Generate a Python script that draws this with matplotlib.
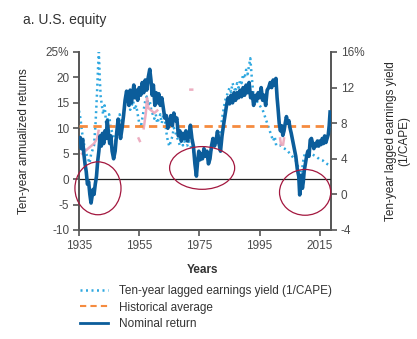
import matplotlib
matplotlib.use("Agg")
import matplotlib.pyplot as plt
import numpy as np
from matplotlib.patches import Ellipse
from matplotlib.lines import Line2D

plt.rcParams['font.family'] = ['Liberation Sans', 'DejaVu Sans']

# ten-year annualized nominal return (left axis, %)
ret_years = [1935.0, 1935.4, 1935.8, 1936.2, 1936.6, 1937.0, 1937.4, 1937.8, 1938.2, 1938.6,
             1939.0, 1939.3, 1939.7, 1940.0, 1940.4, 1940.8, 1941.2, 1941.6, 1942.0, 1942.4,
             1942.8, 1943.2, 1943.6, 1944.0, 1944.4, 1944.8, 1945.2, 1945.6, 1946.0, 1946.5,
             1947.0, 1947.5, 1948.0, 1948.4, 1948.8, 1949.3, 1949.8, 1950.3, 1950.8, 1951.2,
             1951.6, 1952.0, 1952.4, 1952.8, 1953.2, 1953.6, 1954.0, 1954.5, 1955.0, 1955.5,
             1956.0, 1956.5, 1957.0, 1957.5, 1958.0, 1958.5, 1958.9, 1959.3, 1959.7, 1960.2,
             1960.6, 1961.0, 1961.5, 1962.0, 1962.5, 1963.0, 1963.5, 1964.0, 1964.5, 1965.0,
             1965.5, 1966.0, 1966.5, 1967.0, 1967.5, 1968.0, 1968.5, 1969.0, 1969.5, 1970.0,
             1970.5, 1971.0, 1971.5, 1972.0, 1972.5, 1973.0, 1973.5, 1974.0, 1974.4, 1974.8,
             1975.2, 1975.6, 1976.0, 1976.5, 1977.0, 1977.5, 1978.0, 1978.5, 1979.0, 1979.5,
             1980.0, 1980.5, 1981.0, 1981.5, 1982.0, 1982.5, 1983.0, 1983.5, 1984.0, 1984.5,
             1985.0, 1985.5, 1986.0, 1986.5, 1987.0, 1987.5, 1988.0, 1988.5, 1989.0, 1989.5,
             1990.0, 1990.5, 1991.0, 1991.5, 1992.0, 1992.5, 1993.0, 1993.5, 1994.0, 1994.5,
             1995.0, 1995.5, 1996.0, 1996.5, 1997.0, 1997.5, 1998.0, 1998.5, 1999.0, 1999.5,
             2000.0, 2000.4, 2000.8, 2001.1, 2001.5, 2001.9, 2002.3, 2002.7, 2003.1, 2003.5,
             2003.9, 2004.3, 2004.7, 2005.1, 2005.5, 2006.0, 2006.5, 2007.0, 2007.5, 2008.0,
             2008.3, 2008.6, 2008.9, 2009.2, 2009.5, 2009.8, 2010.2, 2010.6, 2011.0, 2011.4,
             2011.8, 2012.2, 2012.6, 2013.0, 2013.4, 2013.8, 2014.2, 2014.6, 2015.0, 2015.4,
             2015.8, 2016.2, 2016.6, 2017.0, 2017.4, 2017.8, 2018.1, 2018.4]
nominal_return = [7.5, 8.2, 6.0, 7.8, 5.0, 3.0, 1.5, -1.0, -0.5, -3.0,
                  -4.7, -3.5, -2.0, -3.0, -1.0, 0.5, 3.5, 5.5, 8.5, 6.5,
                  9.0, 7.0, 9.5, 8.0, 11.5, 9.0, 7.0, 8.5, 5.5, 4.0,
                  5.5, 9.0, 11.8, 10.0, 8.0, 10.0, 12.5, 15.5, 17.3, 16.0,
                  14.5, 17.5, 15.0, 16.5, 18.5, 16.0, 17.5, 15.5, 18.0, 16.5,
                  19.0, 17.0, 19.5, 17.5, 20.0, 21.6, 19.5, 16.5, 18.5, 14.5,
                  17.0, 15.0, 16.8, 14.5, 16.0, 14.0, 12.0, 12.5, 10.0, 11.0,
                  12.5, 10.5, 13.0, 11.5, 12.0, 8.5, 9.5, 7.5, 9.0, 8.0,
                  9.5, 7.5, 8.5, 10.6, 8.0, 6.5, 3.0, 0.6, 3.5, 5.5,
                  3.8, 5.0, 4.0, 6.0, 4.5, 5.5, 3.0, 4.0, 6.5, 8.0,
                  6.5, 7.5, 9.4, 7.0, 5.5, 8.5, 10.6, 12.5, 14.5, 16.0,
                  14.8, 16.5, 15.0, 17.0, 15.5, 17.0, 16.0, 17.5, 16.2, 18.0,
                  16.5, 18.5, 17.0, 19.0, 16.0, 17.0, 14.5, 16.5, 15.5, 17.0,
                  16.0, 18.0, 15.5, 16.5, 14.5, 17.5, 18.0, 19.0, 18.0, 19.5,
                  18.5, 19.8, 16.0, 14.0, 11.0, 9.5, 10.5, 8.6, 9.5, 11.0,
                  12.3, 11.0, 11.5, 10.0, 9.0, 7.5, 6.0, 4.5, 2.0, 0.5,
                  -3.1, -1.0, 0.8, -1.8, -0.5, 1.6, 3.0, 4.5, 5.5, 4.5,
                  7.7, 8.0, 7.0, 6.0, 7.0, 6.5, 7.5, 6.5, 7.5, 6.8,
                  8.0, 7.0, 8.5, 7.2, 8.0, 8.8, 10.5, 13.2]

# ten-year lagged earnings yield 1/CAPE (right axis, %)
ey_years = [1935.0, 1935.5, 1936.0, 1936.5, 1937.0, 1937.5, 1938.0, 1938.5, 1939.0, 1939.5,
            1940.0, 1940.5, 1941.0, 1941.3, 1941.6, 1941.9, 1942.2, 1942.6, 1943.0, 1943.5,
            1944.0, 1944.5, 1945.0, 1945.5, 1946.0, 1946.5, 1947.0, 1947.5, 1948.0, 1948.5,
            1949.0, 1949.5, 1950.0, 1950.5, 1951.0, 1951.5, 1952.0, 1952.5, 1953.0, 1953.5,
            1954.0, 1954.5, 1955.0, 1955.5, 1956.0, 1956.5, 1957.0, 1957.5, 1958.0, 1958.5,
            1959.0, 1959.5, 1960.0, 1960.5, 1961.0, 1961.5, 1962.0, 1962.5, 1963.0, 1963.5,
            1964.0, 1964.5, 1965.0, 1965.5, 1966.0, 1966.5, 1967.0, 1967.5, 1968.0, 1968.5,
            1969.0, 1969.5, 1970.0, 1970.5, 1971.0, 1971.5, 1972.0, 1972.5, 1973.0, 1974.0,
            1975.0, 1976.0, 1977.0, 1978.0, 1979.0, 1979.5, 1980.0, 1980.5, 1981.0, 1981.5,
            1982.0, 1982.5, 1983.0, 1983.5, 1984.0, 1984.5, 1985.0, 1985.5, 1986.0, 1986.5,
            1987.0, 1987.5, 1988.0, 1988.5, 1989.0, 1989.5, 1990.0, 1990.5, 1991.0, 1991.5,
            1991.9, 1992.3, 1992.7, 1993.0, 1994.0, 1995.0, 1996.0, 1997.0, 1997.5, 1998.0,
            1998.5, 1999.0, 1999.5, 2000.0, 2000.5, 2001.0, 2002.0, 2003.0, 2004.0, 2005.0,
            2006.0, 2007.0, 2007.5, 2008.0, 2008.5, 2009.0, 2009.5, 2010.0, 2010.5, 2011.0,
            2012.0, 2013.0, 2014.0, 2015.0, 2016.0, 2017.0, 2018.0]
earnings_yield = [9.4, 8.5, 7.0, 6.0, 5.0, 4.5, 4.0, 3.5, 4.5, 5.0,
                  5.5, 8.0, 11.5, 14.0, 16.0, 13.0, 11.0, 10.0, 9.0, 10.0,
                  8.0, 8.5, 9.0, 7.5, 7.0, 6.5, 6.0, 6.5, 8.0, 9.0,
                  8.0, 8.5, 9.5, 10.5, 11.0, 10.0, 9.5, 10.0, 10.5, 9.5,
                  10.0, 9.0, 8.0, 7.5, 8.5, 9.5, 10.5, 11.0, 10.0, 10.5,
                  9.5, 9.0, 8.5, 9.0, 8.0, 8.5, 9.0, 8.0, 9.0, 8.5,
                  7.0, 6.0, 5.4, 6.0, 6.5, 7.5, 7.0, 6.5, 6.0, 5.5,
                  6.0, 5.5, 6.0, 5.5, 5.5, 6.0, 5.5, 5.0, 4.8, 4.5,
                  4.5, 4.0, 4.5, 4.0, 5.0, 5.5, 6.0, 6.5, 7.0, 6.5,
                  7.0, 8.5, 9.5, 10.5, 11.0, 11.5, 12.0, 11.5, 12.5, 12.0,
                  11.5, 12.5, 12.0, 12.8, 12.5, 13.5, 13.0, 14.0, 13.5, 14.5,
                  15.3, 13.5, 12.0, 11.0, 10.5, 10.0, 9.5, 8.5, 8.0, 7.5,
                  7.0, 6.5, 6.0, 6.5, 5.5, 5.5, 5.5, 5.2, 5.0, 4.6,
                  4.2, 3.8, 3.4, 2.8, 2.3, 2.6, 3.8, 4.6, 4.3, 4.8,
                  4.6, 4.4, 4.2, 3.9, 3.8, 3.5, 3.3]

# faint pink remnants seen in the original (left axis, %)
pink_years = [1936.0, 1937.0, 1938.0, 1939.0, 1940.0, 1941.0, 1941.5, np.nan,
              1954.8, 1955.2, np.nan,
              1956.5, 1957.2, 1957.6, 1958.0, 1959.0, 1960.0, 1961.0, np.nan,
              1972.0, 1972.6, np.nan,
              2001.8, 2002.1, np.nan, 2002.8, 2003.1]
pink_vals = [5.0, 5.5, 6.0, 6.5, 7.0, 8.0, 9.5, np.nan,
             8.0, 7.5, np.nan,
             10.0, 13.0, 16.0, 14.0, 13.5, 13.0, 13.5, np.nan,
             17.6, 17.6, np.nan,
             8.0, 6.8, np.nan, 6.8, 8.0]

hist_avg = 10.4

left_ticks = [-10, -5, 0, 5, 10, 15, 20, 25]
right_ticks = [-4, 0, 4, 8, 12, 16]
x_ticks = [1935, 1955, 1975, 1995, 2015]

dark_blue = '#0b5d9b'
light_blue = '#2fa8e0'
orange = '#f58b3f'
maroon = '#a3173e'
grey = '#555555'

fig = plt.figure(figsize=(4.17, 3.39), dpi=100)
ax = fig.add_axes([79/417, 1 - 230/339, 252/417, 178/339])
ax2 = ax.twinx()

ax.set_xlim(1935, 2018.7)
ax.set_ylim(-10, 25)
ax2.set_ylim(-4, 16)

ax.axhline(0, color='#222222', lw=0.9, zorder=1)
ax.plot(pink_years, pink_vals, color='#eaa0b6', lw=1.8, alpha=0.85, zorder=2)
ax.axhline(hist_avg, color=orange, lw=2, dashes=(3, 2), zorder=3)
ax2.plot(ey_years, earnings_yield, color=light_blue, lw=1.8,
         linestyle=(0, (0.8, 1.4)), zorder=2)
ax.plot(ret_years, nominal_return, color=dark_blue, lw=2.6, zorder=4)
ax.set_zorder(ax2.get_zorder() + 1)
ax.patch.set_visible(False)

# highlight circles
for (cx, cy, w, h) in [(1941.3, -1.8, 15.3, 10.4), (1975.9, 2.2, 21.6, 8.4), (2010.1, -2.6, 17.0, 9.0)]:
    ax.add_patch(Ellipse((cx, cy), w, h, fill=False, edgecolor=maroon, lw=0.9,
                         clip_on=False, zorder=5))

for a in (ax, ax2):
    a.spines['top'].set_visible(False)
    for s in ('left', 'right', 'bottom'):
        a.spines[s].set_color(grey)
        a.spines[s].set_linewidth(1.4)
ax.spines['right'].set_visible(False)
ax2.spines['left'].set_visible(False)

ax.set_xticks(x_ticks)
ax.set_yticks(left_ticks)
ax.set_yticklabels([str(t) if t != 25 else '25%' for t in left_ticks])
ax2.set_yticks(right_ticks)
ax2.set_yticklabels([str(t) if t != 16 else '16%' for t in right_ticks])
for a in (ax, ax2):
    a.tick_params(axis='both', colors=grey, labelcolor='#4a4a4a', labelsize=8.5,
                  length=4, width=1.2, pad=3)

ax.set_ylabel('Ten-year annualized returns', fontsize=8.5, color='#2a2a2a')
ax.yaxis.set_label_coords(-0.195, 0.5)
ax2.set_ylabel('Ten-year lagged earnings yield\n(1/CAPE)', fontsize=8.5,
               color='#2a2a2a', rotation=90, linespacing=1.1)
ax2.yaxis.set_label_coords(1.215, 0.5)
ax.set_xlabel('Years', fontsize=8.5, fontweight='bold', color='#333333')
ax.xaxis.set_label_coords(0.49, -0.19)

fig.text(23/417, 1 - 20/339, 'a. U.S. equity', fontsize=10, color='#333333', va='center')

handles = [Line2D([], [], color=light_blue, lw=1.8, linestyle=(0, (0.8, 1.4))),
           Line2D([], [], color=orange, lw=1.5, dashes=(3, 2)),
           Line2D([], [], color=dark_blue, lw=2)]
labels = ['Ten-year lagged earnings yield (1/CAPE)', 'Historical average', 'Nominal return']
leg = fig.legend(handles, labels, loc='upper left', bbox_to_anchor=(0.18, 0.172),
                 frameon=False, fontsize=8.5, handlelength=2.4, handletextpad=0.9,
                 labelspacing=0.35, borderaxespad=0)
for t in leg.get_texts():
    t.set_color('#333333')

fig.savefig('out.png', dpi=100)
